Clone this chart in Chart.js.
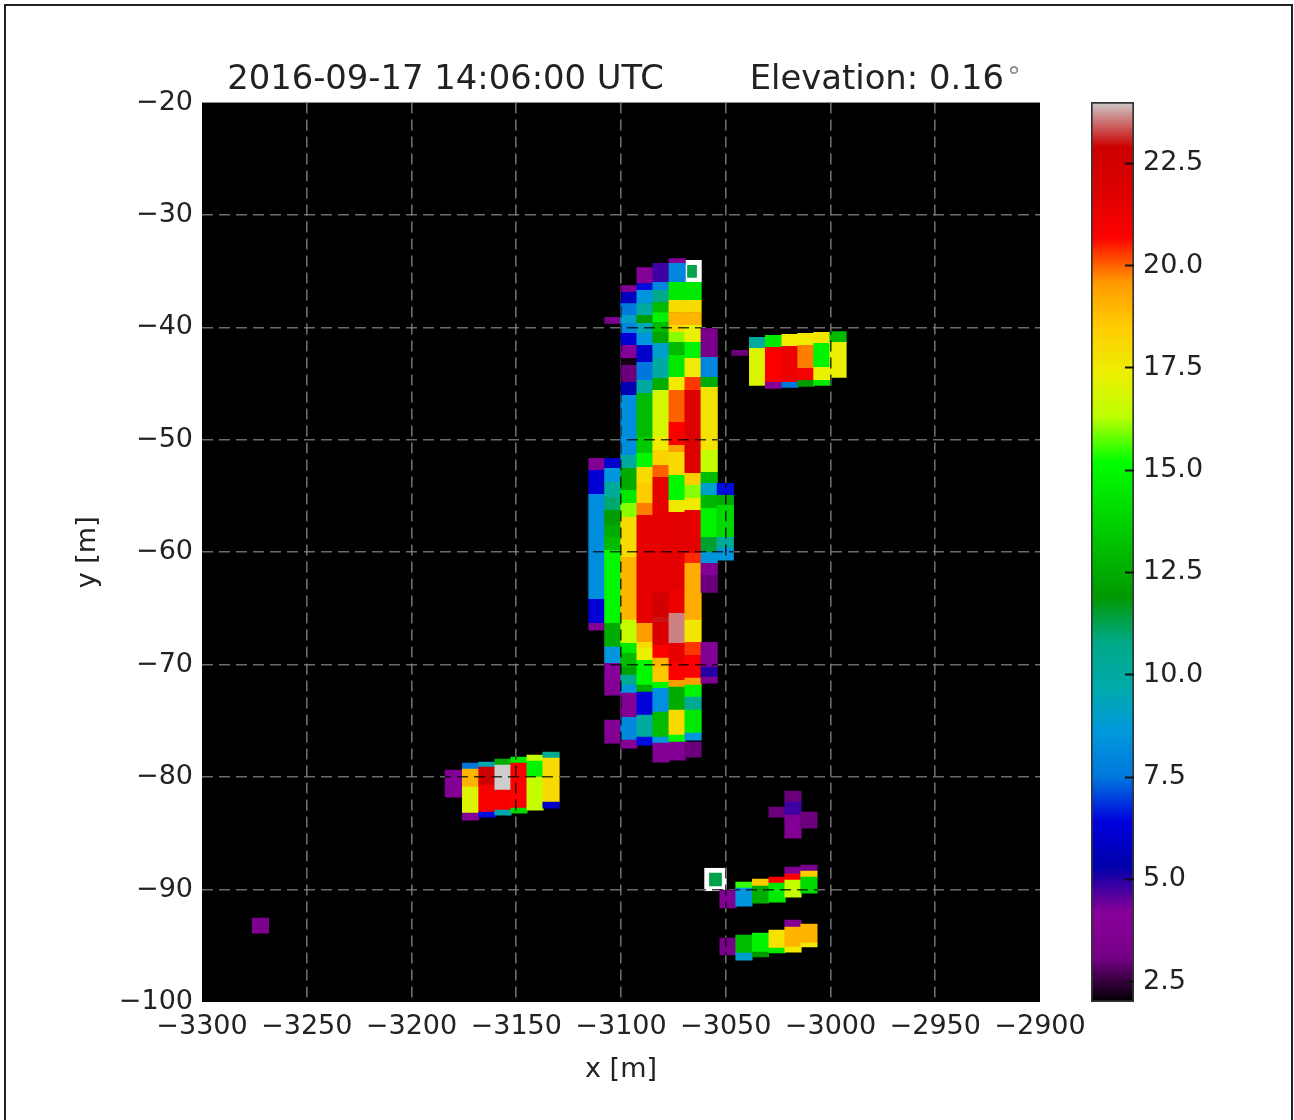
<!DOCTYPE html>
<html>
<head>
<meta charset="utf-8">
<script src="https://cdn.jsdelivr.net/npm/chart.js@4/dist/chart.umd.min.js"></script>
<style>
html, body { margin: 0; padding: 0; background: #fff; }
#page { position: relative; width: 1294px; height: 1120px; overflow: hidden; }
#frame { position: absolute; left: 4px; top: 4px; width: 1285px; height: 1130px; border: 2px solid #222; }
canvas { position: absolute; left: 0; top: 0; filter: blur(0.6px); }
#bar { left: 1086px; }
</style>
</head>
<body>
<div id="page">
  <div id="frame"></div>
  <canvas id="back" width="1294" height="1120"></canvas>
  <canvas id="map" width="1294" height="1120"></canvas>
  <canvas id="bar" width="208" height="1120"></canvas>
</div>
<script>
// axes
var xTicks = [-3300, -3250, -3200, -3150, -3100, -3050, -3000, -2950, -2900];
var yTicks = [-100, -90, -80, -70, -60, -50, -40, -30, -20];
var barTicks = [2.5, 5, 7.5, 10, 12.5, 15, 17.5, 20, 22.5];
var barTickLabels = ['2.5', '5.0', '7.5', '10.0', '12.5', '15.0', '17.5', '20.0', '22.5'];

// colour scale stops (position 0..1, r, g, b)
var scaleStops = [
	[0, 0, 0, 0], [.05, 119, 0, 136], [.1, 136, 0, 153], [.15, 0, 0, 170], [.2, 0, 0, 221],
	[.25, 0, 119, 221], [.3, 0, 153, 221], [.35, 0, 170, 170], [.4, 0, 170, 136], [.45, 0, 153, 0],
	[.5, 0, 187, 0], [.55, 0, 221, 0], [.6, 0, 255, 0], [.65, 187, 255, 0], [.7, 238, 238, 0],
	[.75, 255, 204, 0], [.8, 255, 153, 0], [.85, 255, 0, 0], [.9, 221, 0, 0], [.95, 204, 0, 0], [1, 204, 204, 204]
];
var scaleMin = 2, scaleMax = 24;

// long strip, one entry per column: x, cell edges in y, values (null = empty)
var stripX = [-3111.5, -3103.9, -3096.2, -3088.5, -3080.9, -3073.2, -3065.6, -3057.9, -3050.2];
var stripEdges = [
	[-51.64, -52.71, -54.84, -64.18, -66.31, -66.93],
	[-39.11, -39.64, -51.64, -52.53, -53.78, -55.11, -56.27, -57.60, -58.67, -59.82, -66.31, -68.44, -69.87, -71.38, -72.71, -74.93, -76.98],
	[-36.27, -36.89, -37.87, -38.93, -39.64, -40.53, -41.6, -42.76, -43.38, -44.89, -46.04, -51.38, -52.53, -54.49, -55.64, -56.89, -60.44, -66.04, -68.09, -68.98, -70.22, -70.93, -71.82, -72.53, -74.67, -76.71, -77.42],
	[-34.67, -36.09, -36.71, -37.87, -38.93, -39.64, -40.53, -41.6, -43.11, -44.71, -45.87, -49.78, -51.2, -52.44, -53.87, -55.64, -56.71, -66.31, -68, -68.53, -69.6, -71.82, -72.44, -74.49, -76.44, -77.16],
	[-34.31, -36, -36.71, -37.78, -38.67, -39.56, -40.44, -41.42, -42.76, -44.53, -45.6, -49.78, -50.93, -52.27, -53.33, -63.64, -65.78, -66.22, -68.27, -69.42, -70.22, -71.56, -72.09, -74.22, -76.44, -76.98, -78.67],
	[-33.87, -34.31, -36, -37.6, -38.67, -39.82, -40.44, -41.33, -42.49, -44.44, -45.6, -48.44, -50.49, -51.11, -53.16, -55.38, -56.44, -63.38, -65.42, -68.09, -69.87, -71.38, -72, -74.04, -76.27, -76.89, -78.49],
	[-36, -37.6, -38.67, -39.82, -41.33, -42.76, -44.44, -45.6, -52.98, -54.04, -55.2, -56.27, -60.09, -60.98, -66.04, -68, -69.16, -70.22, -71.2, -71.82, -72.89, -74.04, -76.09, -76.71, -76.89, -78.22],
	[-40.09, -42.67, -44.44, -45.33, -50.93, -52.89, -53.87, -54.93, -56.09, -58.67, -60, -60.98, -62.04, -63.56, -68, -70.22, -71.11, -71.64],
	[-53.87, -54.93, -55.82, -58.67, -59.64, -60.71]
];
var stripVals = [
	[3.8, 6.2, 8.2, 6.2, 3.8],
	[3.5, null, 6, 8.5, 10.2, 11, 12, 12.5, 13, 15, 12.5, 8.5, 4.2, 3.8, null, 3.9],
	[3.8, 5.8, 7.6, 9, 8, 6.2, 4, 2.2, 3, 5.5, 8.2, 10, 12.5, 14.5, 16, 18, 19, 16.5, 14.5, 13, 12.2, 10.5, 8.5, 3.9, 8, 4],
	[4, 6.5, 8.5, 10, 12, 9.5, 8.5, 6, 7.5, 10, 13, 13.5, 15, 18, 18.5, 19.8, 21.5, 19.5, 18, 17.3, 15, 12.5, 6.3, 10, 6.5],
	[4.8, 8, 10.8, 13, 14.8, 13, 12.3, 9, 10, 12.5, 16.8, 17.5, 18.3, 20, 21.5, 22.5, 23, 22, 20.8, 19, 18.6, 15, 8.3, 13, 8.5, 3.8],
	[4, 8, 14.5, 18, 19, 18, 16, 13, 14.5, 17.5, 20, 20.8, 19.5, 18, 15, 17.6, 21.6, 21.3, 23.6, 21.5, 20.8, 19.5, 12.5, 18, 15, 3.8],
	[14.5, 18, 19, 17.3, 14.8, 17.5, 20.3, 21.8, 18.5, 16, 17.5, 21.5, 20.4, 19.2, 17.7, 20.3, 20.8, 20.7, 19.5, 14.8, 10.5, 14.5, 8.5, null, 3],
	[3.3, 8, 12.5, 17.8, 16.5, 13, 9, 12.8, 14.8, 11.5, 8.5, 3.9, 3, null, 3.9, 5, 3.9],
	[6.5, 12.5, 14, 10.3, 8.5]
];

// patch on the right
var rightX = [-3043.2, -3034.8, -3027.2, -3019.3, -3011.7, -3004.1, -2996.4];
var rightEdges = [
	[-42.04, -42.49],
	[-40.89, -41.87, -45.16],
	[-40.71, -41.78, -44.89, -45.42],
	[-40.62, -41.69, -44.89, -45.33],
	[-40.53, -41.6, -43.64, -44.71, -45.24],
	[-40.44, -41.42, -43.56, -44.71, -45.16],
	[-40.36, -41.33, -44.44]
];
var rightVals = [[3], [10, 17], [14.5, 20.8, 4], [17.5, 21.3, 7.5], [17.5, 19.8, 20.9, 12], [17.7, 14.8, 17.3, 14.5], [13, 17.3]];

// patch on the left
var leftX = [-3180, -3171.8, -3164, -3156.3, -3148.7, -3141, -3133.4];
var leftEdges = [
	[-79.38, -81.78],
	[-78.76, -79.29, -80.89, -83.2, -83.82],
	[-78.67, -79.11, -80.71, -83.11, -83.56],
	[-78.4, -78.93, -81.16, -82.93, -83.38],
	[-78.22, -78.76, -82.76, -83.2],
	[-78.04, -78.58, -80, -82.93],
	[-77.78, -78.31, -82.22, -82.76]
];
var leftVals = [[3.8], [7.5, 19, 17, 4], [9.5, 22.8, 21, 6.5], [12.5, 24, 21, 9.5], [14.5, 20.8, 14], [16.5, 14.8, 16.5], [10.5, 18, 6]];

// strips at the bottom
var lowX = [-3048.9, -3041.3, -3033.4, -3025.5, -3017.9, -3010.3];
var lowEdges = [
	[-90.04, -91.64, -94.31, -95.82],
	[-89.33, -89.87, -91.47, -94.04, -95.64, -96.27],
	[-89.07, -89.69, -91.2, -93.87, -95.56, -96],
	[-82.67, -83.56, -88.89, -89.42, -91.11, -93.6, -95.2, -95.64],
	[-81.24, -82.22, -83.38, -85.42, -88, -88.62, -89.16, -90.67, -92.71, -93.33, -95.11, -95.56],
	[-83.11, -84.53, -87.82, -88.36, -88.89, -90.31, -93.07, -94.76, -95.11]
];
var lowVals = [
	[3.9, null, 3.2],
	[15.5, 8.5, null, 13, 9],
	[18.5, 12.5, null, 14.8, 12],
	[3, null, 20.8, 14.5, null, 17.8, 14.5],
	[3, 4.8, 3.8, null, 3.8, 20.8, 16.5, null, 3.8, 19, 17.5],
	[3, null, 3.2, 18.5, 14, null, 19, 17.5]
];

// single cell lower left
var spotX = [-3272.1];
var spotEdges = [[-92.53, -93.87]];
var spotVals = [[3.5]];

// the two outlined cells
var markX = [-3066.1, -3054.9];
var markY = [[-34.04, -36], [-88.09, -90.13]];
var markVals = [11.3, 11.3];

function colourOf(v)
{
	var t = Math.min(1, Math.max(0, (v - scaleMin) / (scaleMax - scaleMin)));
	for (var i = 1; i < scaleStops.length; i++)
	{
		var a = scaleStops[i - 1], b = scaleStops[i];
		if (t <= b[0])
		{
			var f = (t - a[0]) / (b[0] - a[0]);
			return 'rgb(' + Math.round(a[1] + (b[1] - a[1]) * f) + ',' + Math.round(a[2] + (b[2] - a[2]) * f) + ',' + Math.round(a[3] + (b[3] - a[3]) * f) + ')';
		}
	}
	return 'rgb(204,204,204)';
}

function addCells(cells, xs, edges, vals)
{
	xs.forEach(function(x, c)
	{
		vals[c].forEach(function(v, i)
		{
			if (v !== null) cells.push({ x: x, y: [edges[c][i + 1], edges[c][i]], v: v });
		});
	});
}

var cells = [];
addCells(cells, stripX, stripEdges, stripVals);
addCells(cells, rightX, rightEdges, rightVals);
addCells(cells, leftX, leftEdges, leftVals);
addCells(cells, lowX, lowEdges, lowVals);
addCells(cells, spotX, spotEdges, spotVals);

var datasets = [{
	label: 'cells',
	data: cells,
	grouped: false,
	barThickness: 16.5,
	backgroundColor: function(ctx) { return colourOf(ctx.raw ? ctx.raw.v : scaleMin); }
}];
var markWidths = [19, 22];
markX.forEach(function(x, i)
{
	datasets.push({
		label: 'mark',
		data: [{ x: x, y: [markY[i][1], markY[i][0]] }],
		grouped: false,
		barThickness: markWidths[i],
		backgroundColor: colourOf(markVals[i]),
		borderColor: '#ffffff',
		borderWidth: 5,
		borderSkipped: false
	});
});

var blackPlot = {
	id: 'blackPlot',
	beforeDraw: function(chart)
	{
		var a = chart.chartArea;
		chart.ctx.save();
		chart.ctx.fillStyle = '#000';
		chart.ctx.fillRect(a.left, a.top, a.width, a.height);
		chart.ctx.restore();
	}
};

// the degree sign is smaller and paler than the rest of the title
var degreeSign = {
	id: 'degreeSign',
	afterDraw: function(chart)
	{
		var c = chart.ctx;
		c.save();
		c.font = '27px "DejaVu Sans"';
		c.fillStyle = '#8a8a8a';
		c.textAlign = 'center';
		c.fillText('\u00b0', 1014, 86);
		c.restore();
	}
};

// grid drawn on the upper canvas only darkens what is already there (the cells)
var onlyOnCells = {
	id: 'onlyOnCells',
	afterDatasetsDraw: function(chart) { chart.ctx.globalCompositeOperation = 'source-atop'; },
	afterDraw: function(chart) { chart.ctx.globalCompositeOperation = 'source-over'; }
};

Chart.defaults.font.family = '"DejaVu Sans"';
Chart.defaults.color = '#222';

function setTicks(list) { return function(axis) { axis.ticks = list.map(function(v) { return { value: v }; }); }; }
function minusLabel(v) { return String(v).replace('-', '\u2212'); }

var gridDash = [11, 6];

// no grid line along the plot edges
function innerGrid(list, colour)
{
	return function(ctx)
	{
		if (!ctx.tick || ctx.tick.value === list[0] || ctx.tick.value === list[list.length - 1]) return 'rgba(0,0,0,0)';
		return colour;
	};
}

// same layout twice: background with text and grey grid, then cells with dark grid
function mapChart(id, sets, plugins, gridColour, gridZ, textColour)
{
	return new Chart(document.getElementById(id), {
		type: 'bar',
		data: { datasets: sets },
		plugins: plugins,
		options: {
			responsive: false,
			animation: false,
			layout: { padding: { left: 72, right: 254, top: 0, bottom: 34 } },
			plugins: {
				legend: { display: false },
				tooltip: { enabled: false },
				title: {
					display: true,
					fullSize: false,
					text: '2016-09-17 14:06:00 UTC        Elevation: 0.16 ',
					font: { size: 33.8, weight: 'normal' },
					color: textColour,
					padding: { top: 60, bottom: 2 }
				}
			},
			scales: {
				x: {
					type: 'linear', min: -3300, max: -2900, offset: false,
					afterBuildTicks: setTicks(xTicks),
					afterFit: function(s) { s.height = 84; },
					grid: { color: innerGrid(xTicks, gridColour), lineWidth: 1.6, drawTicks: false, offset: false, z: gridZ },
					border: { display: false, dash: gridDash },
					ticks: { color: textColour, font: { size: 27 }, padding: 9, autoSkip: false, maxRotation: 0, callback: minusLabel },
					title: { display: true, color: textColour, text: 'x [m]', font: { size: 27 }, padding: 0 }
				},
				y: {
					type: 'linear', min: -100, max: -20, beginAtZero: false,
					afterBuildTicks: setTicks(yTicks),
					afterFit: function(s) { s.width = 130; },
					grid: { color: innerGrid(yTicks, gridColour), lineWidth: 1.6, drawTicks: false, z: gridZ },
					border: { display: false, dash: gridDash },
					ticks: { color: textColour, font: { size: 27 }, padding: 9, autoSkip: false, callback: minusLabel },
					title: { display: true, color: textColour, text: 'y [m]', font: { size: 27 }, padding: 0 }
				}
			}
		}
	});
}

mapChart('back', [], [blackPlot, degreeSign], 'rgba(135,135,135,0.8)', -1, '#222');
mapChart('map', datasets, [onlyOnCells], 'rgba(0,0,0,0.75)', 1, 'rgba(0,0,0,0)');

// colour bar
new Chart(document.getElementById('bar'), {
	type: 'bar',
	data: {
		labels: ['value'],
		datasets: [{
			data: [[scaleMin, scaleMax]],
			barPercentage: 1,
			categoryPercentage: 1,
			borderColor: '#333',
			borderWidth: 2,
			borderSkipped: false,
			backgroundColor: function(ctx)
			{
				var a = ctx.chart.chartArea;
				if (!a) return '#000';
				var g = ctx.chart.ctx.createLinearGradient(0, a.bottom, 0, a.top);
				scaleStops.forEach(function(s) { g.addColorStop(s[0], 'rgb(' + s[1] + ',' + s[2] + ',' + s[3] + ')'); });
				return g;
			}
		}]
	},
	options: {
		responsive: false,
		animation: false,
		layout: { padding: { left: 5, right: 0, top: 102, bottom: 118 } },
		plugins: { legend: { display: false }, tooltip: { enabled: false }, title: { display: false } },
		scales: {
			x: { display: false },
			y: {
				position: 'right', min: scaleMin, max: scaleMax, beginAtZero: false,
				afterBuildTicks: setTicks(barTicks),
				afterFit: function(s) { s.width = 160; },
				grid: { drawOnChartArea: false, drawTicks: true, tickLength: -9, tickColor: '#111', tickWidth: 2, z: 1 },
				border: { display: false },
				ticks: {
					font: { size: 27 }, padding: 18, autoSkip: false,
					callback: function(v) { return barTickLabels[barTicks.indexOf(v)]; }
				}
			}
		}
	}
});
</script>
</body>
</html>
